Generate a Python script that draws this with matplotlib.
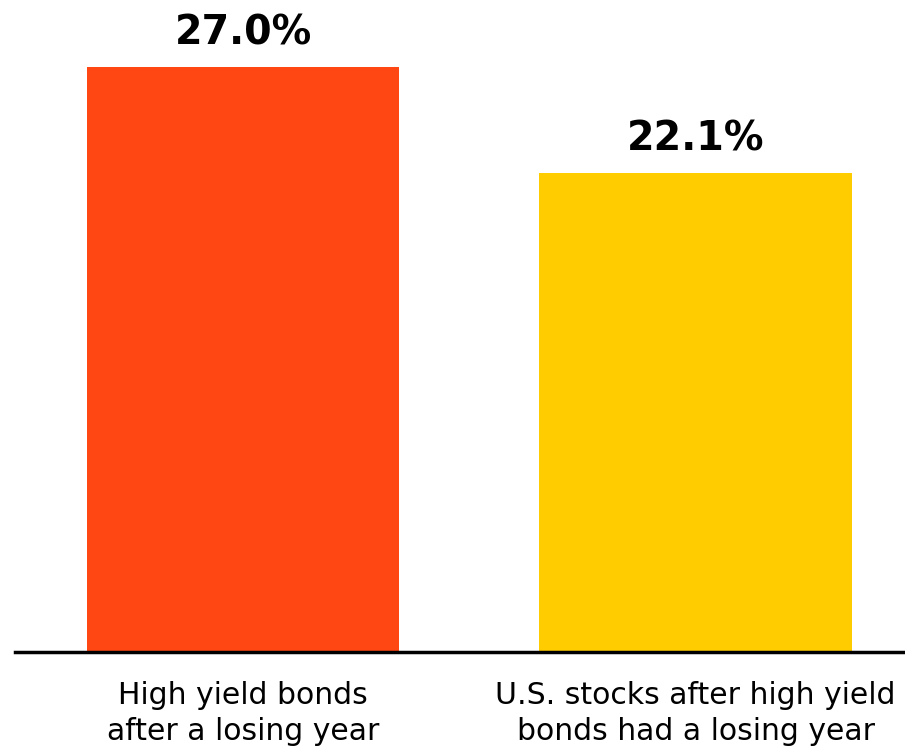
import numpy as np
import matplotlib.pyplot as plt

categories = ['High yield bonds\nafter a losing year', 'U.S. stocks after high yield\nbonds had a losing year']
values = [27.0, 22.1]
colors = ['#FF4713', '#FFCC00']

plt.rcParams['font.family'] = ['DejaVu Sans']

fig = plt.figure(figsize=(9.05, 7.5), dpi=100)
ax = fig.add_axes([15 / 905, 98 / 750, 890 / 905, 650 / 750])

x = np.arange(len(values))
bars = ax.bar(x, values, width=0.69, color=colors, zorder=2)

for xi, v in zip(x, values):
    ax.text(xi, v + 1.05, '{:.1f}%'.format(v), ha='center', va='baseline',
            fontsize=28.5, fontweight='bold', color='black')

ax.set_xlim(-0.504, 1.463)
ax.set_ylim(0, 30)
ax.set_xticks(x)
ax.set_xticklabels(categories, fontsize=21.5, linespacing=1.3)
ax.tick_params(axis='x', length=0, pad=21)
ax.set_yticks([])
for s in ['top', 'right', 'left']:
    ax.spines[s].set_visible(False)
ax.spines['bottom'].set_linewidth(2.5)

fig.savefig('out.png', dpi=100)
